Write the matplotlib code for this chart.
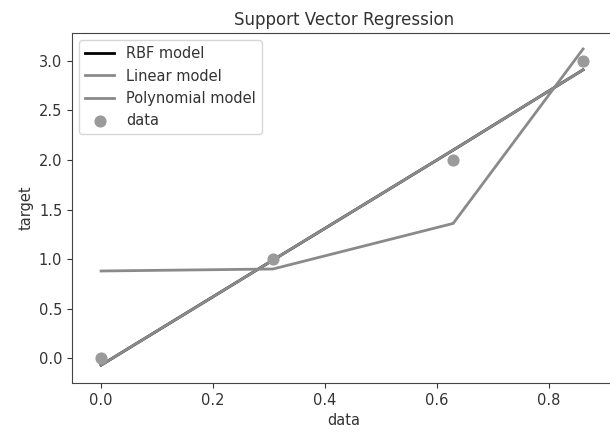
"""Support Vector Regression — comparaison RBF / lineaire / polynomial."""

import matplotlib
matplotlib.use("Agg")
import matplotlib.pyplot as plt

# ─── Donnees ───────────────────────────────────────────────────────
x_data = [0.0, 0.307, 0.629, 0.861]
y_data = [0.0, 1.0, 2.0, 3.0]

# predictions des modeles aux memes abscisses
y_rbf = [-0.07, 0.99, 2.10, 2.91]
y_linear = [-0.07, 0.99, 2.10, 2.91]
y_poly = [0.88, 0.90, 1.36, 3.12]

TEXT_COLOR = "#333333"
LINE_GREY = "#8a8a8a"
POINT_GREY = "#9a9a9a"

plt.rcParams.update({
    "font.family": "DejaVu Sans",
    "font.size": 10.5,
    "text.color": TEXT_COLOR,
    "axes.labelcolor": TEXT_COLOR,
    "xtick.color": TEXT_COLOR,
    "ytick.color": TEXT_COLOR,
    "axes.edgecolor": "#444444",
})

fig = plt.figure(figsize=(6.10, 4.36), dpi=100)
# l'axe depasse a droite : la figure d'origine est rognee
ax = fig.add_axes([0.118, 0.1216, 0.892, 0.8024])

ax.plot(x_data, y_rbf, color="black", lw=2, label="RBF model")
ax.plot(x_data, y_linear, color=LINE_GREY, lw=2, label="Linear model")
ax.plot(x_data, y_poly, color=LINE_GREY, lw=2, label="Polynomial model")
ax.scatter(x_data, y_data, color=POINT_GREY, s=60, zorder=3, label="data")

ax.set_xlim(-0.052, 0.920)
ax.set_ylim(-0.25, 3.28)
ax.set_xticks([0.0, 0.2, 0.4, 0.6, 0.8])
ax.set_yticks([0.0, 0.5, 1.0, 1.5, 2.0, 2.5, 3.0])
ax.set_xlabel("data")
ax.set_ylabel("target")
ax.set_title("Support Vector Regression", fontsize=12)
ax.legend(loc="upper left")

fig.savefig("out.png", dpi=100)
